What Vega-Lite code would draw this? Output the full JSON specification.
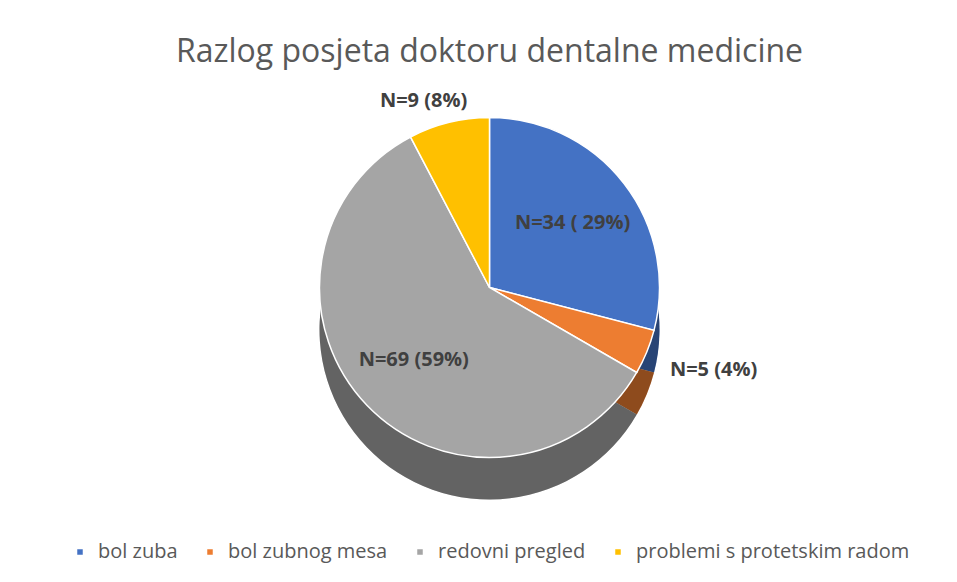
{
  "$schema": "https://vega.github.io/schema/vega-lite/v6.json",
  "width": 957,
  "height": 582,
  "autosize": {"type": "fit", "contains": "padding"},
  "padding": {"top": 36, "bottom": 20, "left": 22, "right": 0},
  "background": "white",
  "config": {"view": {"stroke": null}, "font": "Open Sans", "legend": {"layout": {"bottom": {"anchor": "middle"}}}},
  "title": {
    "text": "Razlog posjeta doktoru dentalne medicine",
    "fontSize": 32,
    "font": "Open Sans",
    "fontWeight": "normal",
    "color": "#595959",
    "anchor": "middle",
    "offset": 10
  },
  "data": {
    "values": [
      {"razlog": "bol zuba", "n": 34, "i": 1, "label": "N=34 ( 29%)"},
      {"razlog": "bol zubnog mesa", "n": 5, "i": 2, "label": "N=5 (4%)"},
      {"razlog": "redovni pregled", "n": 69, "i": 3, "label": "N=69 (59%)"},
      {"razlog": "problemi s protetskim radom", "n": 9, "i": 4, "label": "N=9 (8%)"}
    ]
  },
  "encoding": {
    "theta": {"field": "n", "type": "quantitative", "stack": true},
    "order": {"field": "i", "type": "quantitative"}
  },
  "layer": [
    {
      "mark": {"type": "arc", "outerRadius": 170, "yOffset": 42},
      "encoding": {
        "color": {
          "field": "razlog",
          "type": "nominal",
          "sort": ["bol zuba", "bol zubnog mesa", "redovni pregled", "problemi s protetskim radom"],
          "scale": {
            "domain": ["bol zuba", "bol zubnog mesa", "redovni pregled", "problemi s protetskim radom"],
            "range": ["#4472C4", "#ED7D31", "#A5A5A5", "#FFC000"]
          },
          "legend": {
            "orient": "bottom",
            "direction": "horizontal",
            "title": null,
            "symbolType": "square",
            "symbolSize": 49,
            "labelFontSize": 20,
            "labelColor": "#595959",
            "labelFont": "Open Sans",
            "labelLimit": 500,
            "labelOffset": 8,
            "columnPadding": 22,
            "offset": 46
          }
        }
      }
    },
    {
      "mark": {"type": "arc", "outerRadius": 170, "yOffset": 42, "color": "black", "opacity": 0.4}
    },
    {
      "mark": {"type": "arc", "outerRadius": 170, "stroke": "white", "strokeWidth": 1.5},
      "encoding": {
        "color": {"field": "razlog", "type": "nominal"}
      }
    },
    {
      "mark": {"type": "text", "radius": 105, "fontSize": 20, "fontWeight": "bold", "color": "#404040", "font": "Open Sans"},
      "encoding": {"text": {"condition": {"test": "datum.i == 1 || datum.i == 3", "field": "label"}, "value": ""}}
    },
    {
      "mark": {"type": "text", "radius": 195, "fontSize": 20, "fontWeight": "bold", "color": "#404040", "font": "Open Sans", "align": "left", "dx": 0, "dy": 8},
      "encoding": {"text": {"condition": {"test": "datum.i == 2", "field": "label"}, "value": ""}}
    },
    {
      "mark": {"type": "text", "radius": 192, "fontSize": 20, "fontWeight": "bold", "color": "#404040", "font": "Open Sans", "dx": -20},
      "encoding": {"text": {"condition": {"test": "datum.i == 4", "field": "label"}, "value": ""}}
    }
  ]
}
